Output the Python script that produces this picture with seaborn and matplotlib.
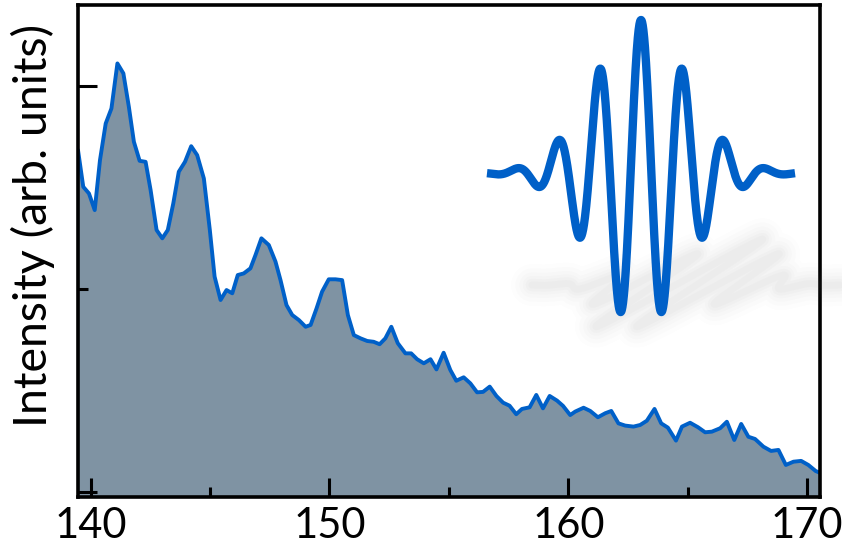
import numpy as np
import pandas as pd
import matplotlib
matplotlib.use("Agg")
import matplotlib.pyplot as plt
import seaborn as sns

# Spectrum: photon energy vs. intensity (arb. units)
energy = [
    139.47, 139.69, 139.93, 140.17, 140.39, 140.63, 140.87, 141.12, 141.37, 141.60,
    141.81, 142.05, 142.30, 142.51, 142.76, 143.00, 143.23, 143.46, 143.69, 143.95,
    144.21, 144.46, 144.74, 144.99, 145.19, 145.44, 145.69, 145.93, 146.16, 146.41,
    146.69, 146.90, 147.15, 147.46, 147.74, 147.95, 148.20, 148.44, 148.72, 149.00,
    149.21, 149.46, 149.69, 149.97, 150.25, 150.53, 150.77, 151.02, 151.30, 151.58,
    151.85, 152.10, 152.34, 152.59, 152.86, 153.18, 153.42, 153.67, 153.95, 154.23,
    154.48, 154.78, 155.06, 155.31, 155.62, 155.90, 156.18, 156.43, 156.71, 156.99,
    157.27, 157.54, 157.82, 158.06, 158.38, 158.66, 158.94, 159.22, 159.53, 159.78,
    160.08, 160.29, 160.64, 160.92, 161.24, 161.55, 161.80, 162.10, 162.38, 162.73,
    163.01, 163.29, 163.61, 163.89, 164.17, 164.51, 164.76, 165.10, 165.43, 165.73,
    166.01, 166.36, 166.64, 166.95, 167.24, 167.54, 167.82, 168.17, 168.49, 168.80,
    169.11, 169.43, 169.75, 170.05, 170.36, 170.54,
]
intensity = [
    1.685, 1.504, 1.471, 1.389, 1.635, 1.816, 1.890, 2.112, 2.063, 1.898,
    1.726, 1.632, 1.627, 1.488, 1.291, 1.250, 1.291, 1.422, 1.578, 1.627,
    1.704, 1.660, 1.545, 1.291, 1.061, 0.946, 0.995, 0.979, 1.069, 1.077,
    1.102, 1.167, 1.250, 1.217, 1.135, 1.044, 0.921, 0.872, 0.847, 0.814,
    0.823, 0.905, 0.987, 1.048, 1.048, 1.044, 0.872, 0.773, 0.757, 0.744,
    0.740, 0.728, 0.757, 0.814, 0.733, 0.683, 0.683, 0.654, 0.634, 0.654,
    0.604, 0.686, 0.601, 0.548, 0.565, 0.535, 0.491, 0.493, 0.519, 0.473,
    0.440, 0.425, 0.383, 0.409, 0.417, 0.478, 0.412, 0.473, 0.450, 0.424,
    0.379, 0.396, 0.415, 0.399, 0.368, 0.388, 0.399, 0.338, 0.327, 0.322,
    0.330, 0.351, 0.409, 0.338, 0.317, 0.253, 0.322, 0.341, 0.319, 0.294,
    0.297, 0.314, 0.346, 0.256, 0.335, 0.272, 0.261, 0.223, 0.202, 0.207,
    0.133, 0.149, 0.153, 0.133, 0.103, 0.094,
]

x_major = [140, 150, 160, 170]
x_minor = [145, 155, 165]
y_major = [0, 2]
y_minor = [1]
y_label = "Intensity (arb. units)"

FILL = "#7f93a3"
BLUE = "#0060c8"

sns.set_theme(style="white")
plt.rcParams["font.family"] = ["Lato", "DejaVu Sans"]

W, H = 842, 550
fig = plt.figure(figsize=(W / 100, H / 100), dpi=100)
ax = fig.add_axes([78 / W, 1 - 497 / H, 742 / W, 492 / H])
ax.set_axisbelow(False)

df = pd.DataFrame({"energy": energy, "intensity": intensity})
ax.fill_between(df["energy"], df["intensity"], -1, color=FILL, lw=0, zorder=1)
sns.lineplot(data=df, x="energy", y="intensity", ax=ax, color=BLUE,
             lw=2.8, zorder=2, sort=False)

ax.set_xlim(139.47, 170.54)
ax.set_ylim(-0.025, 2.40)
ax.set_xticks(x_major)
ax.set_xticks(x_minor, minor=True)
ax.set_yticks(y_major)
ax.set_yticks(y_minor, minor=True)
ax.set_yticklabels([])
ax.set_xlabel("")
ax.set_ylabel("")
ax.tick_params(which="both", direction="in", width=2.2, color="black",
               top=False, right=False, left=True, bottom=True)
ax.tick_params(which="major", length=13.5)
ax.tick_params(which="minor", length=7)
ax.tick_params(axis="x", labelsize=30, pad=7, labelcolor="black")
for s in ax.spines.values():
    s.set_linewidth(2.6)
    s.set_color("black")
    s.set_zorder(5)

fig.text(33 / W, 1 - 225 / H, y_label, rotation=90, ha="center", va="center",
         fontsize=33.5, color="black")

# Few-cycle pulse icon with a soft, skewed shadow
ov = fig.add_axes([0, 0, 1, 1], zorder=10)
ov.set_xlim(0, W)
ov.set_ylim(H, 0)
ov.axis("off")
ov.patch.set_alpha(0)

cx, cy = 641, 173
amp, period, sigma, half_span = 153, 41.5, 47.0, 154
t = np.linspace(-half_span, half_span, 1500)
disp = amp * np.exp(-t ** 2 / (2 * sigma ** 2)) * np.cos(2 * np.pi * t / period)

sx = cx + t + 45 + 0.5 * disp
sy = 285 - 0.3 * disp
for lw_, a_ in [(30, 0.012), (24, 0.015), (18, 0.018), (13, 0.02), (9, 0.022), (5, 0.022)]:
    ov.plot(sx, sy, color="#707070", lw=lw_, alpha=a_, solid_capstyle="round",
            solid_joinstyle="round")

ov.plot(cx + t, cy - disp, color=BLUE, lw=6, solid_capstyle="butt",
        solid_joinstyle="round")

fig.savefig("out.png", dpi=100)
